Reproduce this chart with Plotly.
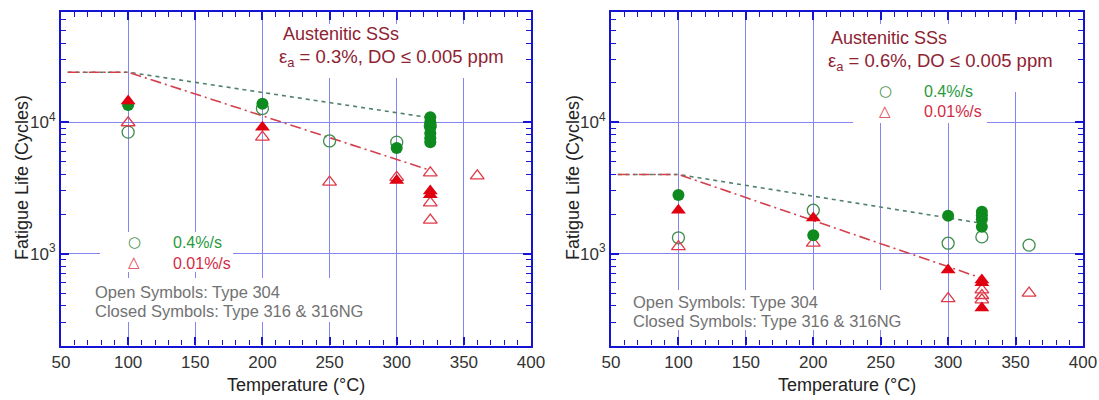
import plotly.graph_objects as go
import math

# ---------------- data ----------------
# Left panel: strain amplitude 0.3 %
L_open_circ_T = [100, 200, 250, 300, 325]
L_open_circ_N = [8400, 12700, 7200, 7050, 9400]
L_fill_circ_T = [100, 200, 300, 325, 325, 325, 325, 325, 325]
L_fill_circ_N = [13500, 13800, 6350, 10900, 10000, 9160, 8250, 7560, 7040]
L_open_tri_T = [100, 200, 250, 300, 325, 325, 325, 360]
L_open_tri_N = [9900, 7700, 3500, 3800, 4120, 2430, 1800, 3900]
L_fill_tri_T = [100, 200, 300, 325, 325]
L_fill_tri_N = [14500, 9160, 3600, 3000, 2800]
L_trend_T = [55, 100, 325]
L_trend_fast_N = [24000, 24000, 10800]
L_trend_slow_N = [24000, 24000, 4300]

# Right panel: strain amplitude 0.6 %
R_open_circ_T = [100, 200, 300, 325, 360]
R_open_circ_N = [1320, 2140, 1200, 1340, 1160]
R_fill_circ_T = [100, 200, 300, 325, 325, 325, 325]
R_fill_circ_N = [2790, 1380, 1940, 2080, 1960, 1830, 1600]
R_open_tri_T = [100, 200, 300, 325, 325, 325, 360]
R_open_tri_N = [1130, 1200, 455, 530, 480, 445, 500]
R_fill_tri_T = [100, 200, 300, 325, 325, 325]
R_fill_tri_N = [2140, 1870, 750, 630, 600, 385]
R_trend_T = [55, 100, 325]
R_trend_fast_N = [4000, 4000, 1700]
R_trend_slow_N = [4000, 4000, 650]

x_range = [50, 400]
y_range = [200, 68900]
y_major_vals = [1000, 10000]
y_major_text = ["10<sup>3</sup>", "10<sup>4</sup>"]
y_minor_vals = [m * 10 ** e for e in (2, 3, 4) for m in range(2, 10) if m * 10 ** e < 70000]

titles_L = ["Austenitic SSs", "ε<sub>a</sub> = 0.3%, DO ≤ 0.005 ppm"]
titles_R = ["Austenitic SSs", "ε<sub>a</sub> = 0.6%, DO ≤ 0.005 ppm"]
rate_labels = ["0.4%/s", "0.01%/s"]
note_lines = ["Open Symbols: Type 304", "Closed Symbols: Type 316 & 316NG"]

# ---------------- styling ----------------
W, H = 1099, 400
FONT = "Liberation Sans, Arial, Helvetica, sans-serif"
GLYPH_FONT = "DejaVu Sans"
AXC = "#1414d2"
GRIDC = "#8585ef"
G_FILL = "#0f8a1e"
G_OPEN = "#3f8c4c"
R_FILL = "#e0000f"
R_OPEN = "#e03a48"
G_TREND = "#50806a"
R_TREND = "#d3404c"
TITLE_C = "#8e2232"
NOTE_C = "#727272"


def px(x):
    return x / W


def py(y):
    return 1 - y / H


fig = go.Figure()


def add_panel(xa, ya, d):
    fig.add_trace(go.Scatter(x=d["tT"], y=d["tf"], mode="lines", xaxis=xa, yaxis=ya,
                             line=dict(color=G_TREND, width=1.6, dash="4px,4px"), hoverinfo="skip"))
    fig.add_trace(go.Scatter(x=d["tT"], y=d["ts"], mode="lines", xaxis=xa, yaxis=ya,
                             line=dict(color=R_TREND, width=1.6, dash="11px,4px,2px,4px"), hoverinfo="skip"))
    fig.add_trace(go.Scatter(x=d["ocT"], y=d["ocN"], mode="markers", xaxis=xa, yaxis=ya,
                             marker=dict(symbol="circle-open", size=12, color=G_OPEN, line=dict(width=1.3))))
    fig.add_trace(go.Scatter(x=d["otT"], y=d["otN"], mode="markers", xaxis=xa, yaxis=ya,
                             marker=dict(symbol="triangle-up-open", size=12, color=R_OPEN, line=dict(width=1.3))))
    fig.add_trace(go.Scatter(x=d["fcT"], y=d["fcN"], mode="markers", xaxis=xa, yaxis=ya,
                             marker=dict(symbol="circle", size=12, color=G_FILL)))
    fig.add_trace(go.Scatter(x=d["ftT"], y=d["ftN"], mode="markers", xaxis=xa, yaxis=ya,
                             marker=dict(symbol="triangle-up", size=13, color=R_FILL)))


add_panel("x", "y", dict(tT=L_trend_T, tf=L_trend_fast_N, ts=L_trend_slow_N,
                         ocT=L_open_circ_T, ocN=L_open_circ_N, otT=L_open_tri_T, otN=L_open_tri_N,
                         fcT=L_fill_circ_T, fcN=L_fill_circ_N, ftT=L_fill_tri_T, ftN=L_fill_tri_N))
add_panel("x2", "y2", dict(tT=R_trend_T, tf=R_trend_fast_N, ts=R_trend_slow_N,
                           ocT=R_open_circ_T, ocN=R_open_circ_N, otT=R_open_tri_T, otN=R_open_tri_N,
                           fcT=R_fill_circ_T, fcN=R_fill_circ_N, ftT=R_fill_tri_T, ftN=R_fill_tri_N))

tickfont = dict(family=FONT, size=17, color="#333333")

xaxis_common = dict(range=x_range, dtick=50, tick0=50, ticks="inside", ticklen=8, tickwidth=1.5,
                    tickcolor=AXC, showline=True, linecolor=AXC, linewidth=2.2, mirror="ticks",
                    showgrid=True, gridcolor=GRIDC, gridwidth=1.2, zeroline=False, tickfont=tickfont,
                    automargin=False,
                    minor=dict(dtick=10, tick0=50, ticks="inside", ticklen=5, tickwidth=1.3,
                               tickcolor=AXC, showgrid=False))
yaxis_common = dict(type="log", range=[math.log10(y_range[0]), math.log10(y_range[1])],
                    tickmode="array", tickvals=y_major_vals, ticktext=y_major_text,
                    ticks="inside", ticklen=8, tickwidth=1.5, tickcolor=AXC,
                    showline=True, linecolor=AXC, linewidth=2.2, mirror="ticks",
                    showgrid=True, gridcolor=GRIDC, gridwidth=1.2, zeroline=False, tickfont=tickfont,
                    automargin=False,
                    minor=dict(tickmode="array", tickvals=y_minor_vals, ticks="inside", ticklen=5,
                               tickwidth=1.3, tickcolor=AXC, showgrid=False))

ydom = [py(345.5), py(12)]
fig.update_layout(
    xaxis=dict(domain=[px(61), px(531)], anchor="y", **xaxis_common),
    yaxis=dict(domain=ydom, anchor="x", **yaxis_common),
    xaxis2=dict(domain=[px(611), px(1083)], anchor="y2", **xaxis_common),
    yaxis2=dict(domain=ydom, anchor="x2", **yaxis_common),
)

# white boxes behind the in-plot texts (they interrupt the grid, as in the reference)
mask_boxes = [
    (273, 515, 24, 78),
    (100, 233, 232, 272),
    (88, 368, 278, 322),
    (825, 1065, 24, 92),
    (853, 987, 78, 123),
    (625, 906, 290, 330),
]
shapes = [dict(type="rect", xref="paper", yref="paper", x0=px(a), x1=px(b), y0=py(d), y1=py(c),
               fillcolor="white", line=dict(width=0), layer="above")
          for (a, b, c, d) in mask_boxes]

ann = []


def text(x, y, s, color, size, xanchor="left", angle=0, yanchor="middle", family=FONT):
    ann.append(dict(xref="paper", yref="paper", x=px(x), y=py(y), xanchor=xanchor, yanchor=yanchor,
                    text=s, showarrow=False, textangle=angle,
                    font=dict(family=family, size=size, color=color)))


# left panel texts
text(281, 34, titles_L[0], TITLE_C, 18)
text(277, 58, titles_L[1], TITLE_C, 18.5)
text(134, 242, "○", G_OPEN, 15, xanchor="center", family=GLYPH_FONT)
text(134, 262, "△", R_OPEN, 15, xanchor="center", family=GLYPH_FONT)
text(171, 242, rate_labels[0], "#2a9a3c", 16)
text(171, 263, rate_labels[1], "#d42a44", 16)
text(93, 292, note_lines[0], NOTE_C, 16.5)
text(93, 311, note_lines[1], NOTE_C, 16.5)

# right panel texts
text(829, 38, titles_R[0], TITLE_C, 18)
text(826, 62, titles_R[1], TITLE_C, 18.5)
text(885, 91, "○", G_OPEN, 15, xanchor="center", family=GLYPH_FONT)
text(885, 111, "△", R_OPEN, 15, xanchor="center", family=GLYPH_FONT)
text(922, 91, rate_labels[0], "#2a9a3c", 16)
text(922, 111, rate_labels[1], "#d42a44", 16)
text(631, 302, note_lines[0], NOTE_C, 16.5)
text(631, 321, note_lines[1], NOTE_C, 16.5)

# axis titles
text(296, 385, "Temperature (°C)", "#222222", 18, xanchor="center")
text(847, 385, "Temperature (°C)", "#222222", 18, xanchor="center")
text(22, 178, "Fatigue Life (Cycles)", "#222222", 18, xanchor="center", angle=-90)
text(573, 178, "Fatigue Life (Cycles)", "#222222", 18, xanchor="center", angle=-90)

fig.update_layout(
    annotations=ann,
    shapes=shapes,
    width=W, height=H, autosize=False,
    margin=dict(l=0, r=0, t=0, b=0, autoexpand=False),
    showlegend=False,
    plot_bgcolor="white", paper_bgcolor="white",
    font=dict(family=FONT),
)

fig.write_html("out.html",
               config={"displayModeBar": False},
               post_script="document.body.style.margin='0';document.body.style.overflow='hidden';")
